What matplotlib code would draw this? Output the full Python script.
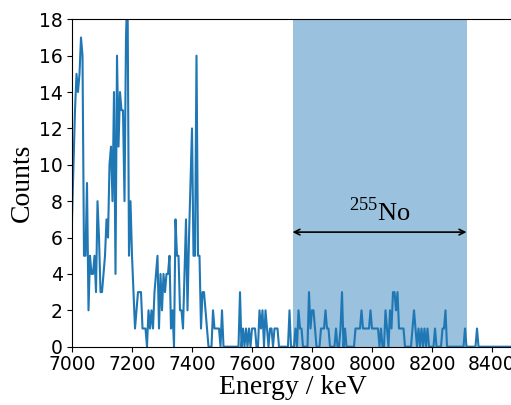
import numpy as np
import matplotlib
matplotlib.use('Agg')
import matplotlib.pyplot as plt

# counts per 5 keV bin, starting at 7000 keV
counts = [
    7, 10, 13, 15, 14, 15, 17, 16, 5, 5,
    9, 2, 5, 4, 4, 5, 3, 8, 6, 3,
    3, 4, 5, 7, 6, 10, 11, 8, 14, 4,
    16, 11, 14, 13, 13, 8, 17, 20, 5, 8,
    5, 3, 1, 2, 3, 3, 3, 1, 1, 1,
    0, 2, 1, 2, 1, 3, 4, 5, 1, 4,
    2, 4, 3, 4, 4, 5, 1, 2, 0, 7,
    5, 5, 2, 2, 1, 4, 7, 2, 6, 9,
    12, 5, 5, 16, 5, 5, 1, 3, 3, 2,
    1, 0, 0, 0, 2, 1, 1, 1, 1, 0,
    2, 0, 0, 0, 0, 0, 0, 0, 0, 0,
    0, 0, 3, 0, 1, 0, 1, 0, 1, 0,
    1, 1, 1, 0, 0, 2, 1, 2, 0, 2,
    1, 0, 1, 1, 0, 1, 1, 1, 0, 0,
    0, 0, 0, 0, 0, 2, 0, 0, 0, 1,
    0, 2, 1, 1, 0, 0, 0, 0, 3, 1,
    2, 2, 1, 0, 0, 0, 1, 1, 1, 2,
    1, 1, 0, 0, 0, 0, 1, 0, 0, 1,
    3, 0, 1, 0, 0, 0, 0, 0, 0, 1,
    1, 1, 1, 2, 1, 1, 1, 1, 1, 2,
    1, 1, 1, 1, 1, 0, 1, 0, 0, 2,
    1, 0, 2, 1, 3, 3, 2, 3, 1, 1,
    1, 1, 0, 0, 0, 0, 0, 1, 2, 1,
    0, 1, 0, 1, 0, 1, 0, 1, 0, 0,
    0, 0, 1, 0, 0, 0, 0, 1, 1, 2,
    0, 0, 0, 0, 0, 0, 0, 0, 0, 0,
    0, 0, 1, 0, 0, 0, 0, 0, 0, 0,
    1, 0, 0, 0, 0, 0, 0, 0, 0, 0,
    0, 0, 0, 0, 0, 0, 0, 0, 0, 0,
    0, 0, 0,
]
bin_start = 7000
bin_width = 5
energy = bin_start + bin_width * np.arange(len(counts))

# 255No gate
gate_lo = 7735
gate_hi = 8315
gate_label = r'$^{255}$No'

x_ticks = [7000, 7200, 7400, 7600, 7800, 8000, 8200, 8400]
y_ticks = [0, 2, 4, 6, 8, 10, 12, 14, 16, 18]

plt.rcParams['mathtext.fontset'] = 'custom'
plt.rcParams['mathtext.rm'] = 'Liberation Serif'

fig = plt.figure(figsize=(5.11, 4.05), dpi=100)
ax = fig.add_axes([72 / 511, 58.3 / 405, 441 / 511, 327.4 / 405])

ax.axvspan(gate_lo, gate_hi, color='C0', alpha=0.45, lw=0)
ax.plot(energy, counts, color='C0', lw=1.5)

ax.annotate('', xy=(gate_lo, 6.3), xytext=(gate_hi, 6.3),
            arrowprops=dict(arrowstyle='<->', color='black', lw=1.2,
                            shrinkA=0, shrinkB=0))
ax.text((gate_lo + gate_hi) / 2, 6.9, gate_label, ha='center', va='baseline',
        fontsize=19, family='Liberation Serif')

ax.set_xlim(7000, 8470)
ax.set_ylim(0, 18)
ax.set_xticks(x_ticks)
ax.set_yticks(y_ticks)
ax.tick_params(labelsize=13.5)
ax.tick_params(axis='x', pad=2.5)
ax.tick_params(axis='y', pad=3)
ax.spines['right'].set_visible(False)

ax.set_xlabel('Energy / keV', family='Liberation Serif', fontsize=20, labelpad=1)
ax.set_ylabel('Counts', family='Liberation Serif', fontsize=20, labelpad=3)

fig.savefig('out.png', dpi=100)
